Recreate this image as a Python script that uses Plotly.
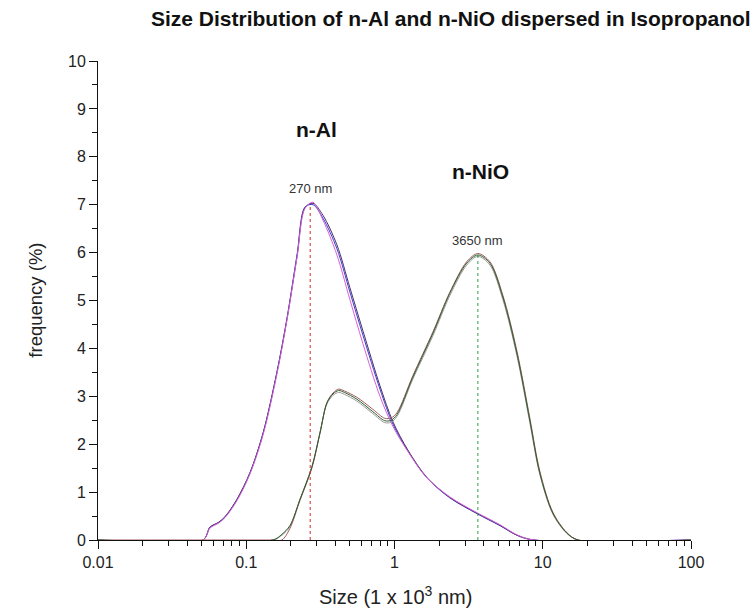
import math
import plotly.graph_objects as go

# Particle size (x 10^3 nm) grids for each material
al_size = [0.01, 0.051, 0.057, 0.065, 0.072, 0.0865, 0.106, 0.13, 0.161, 0.188,
           0.22, 0.249, 0.282, 0.329, 0.409, 0.5, 0.612, 0.798, 0.976, 1.23,
           1.65, 2.36, 3.6, 5.14, 6.69, 8.7, 100]
nio_size = [0.01, 0.151, 0.174, 0.197, 0.23, 0.277, 0.314, 0.35, 0.385, 0.42,
            0.46, 0.557, 0.714, 0.86, 0.95, 1.04, 1.33, 1.82, 2.36, 3.07, 3.65,
            4.4, 5.38, 6.69, 8.18, 9.55, 11.7, 14.5, 17.3, 100]

# Frequency (%) for three repeat measurements of n-Al
al_run1 = [0, 0, 0.27, 0.36, 0.48, 0.84, 1.40, 2.23, 3.50, 4.62, 5.95, 6.95, 7.00,
           6.72, 6.08, 5.18, 4.28, 3.15, 2.42, 1.86, 1.30, 0.88, 0.55, 0.30, 0.10, 0, 0]
al_run2 = [0, 0, 0.27, 0.37, 0.49, 0.85, 1.41, 2.24, 3.50, 4.60, 5.92, 6.94, 7.03,
           6.78, 6.16, 5.27, 4.37, 3.22, 2.47, 1.88, 1.31, 0.89, 0.56, 0.31, 0.10, 0, 0]
al_run3 = [0, 0, 0.25, 0.35, 0.47, 0.82, 1.38, 2.20, 3.46, 4.58, 5.90, 6.92, 7.05,
           6.68, 5.95, 5.02, 4.10, 3.00, 2.37, 1.85, 1.30, 0.90, 0.57, 0.32, 0.11, 0, 0]

# Frequency (%) for three repeat measurements of n-NiO
nio_run1 = [0, 0, 0.10, 0.28, 0.85, 1.53, 2.24, 2.84, 3.02, 3.08, 3.04, 2.90, 2.64,
            2.45, 2.46, 2.58, 3.36, 4.27, 5.10, 5.74, 5.92, 5.74, 5.02, 3.85, 2.45,
            1.37, 0.54, 0.14, 0, 0]
nio_run2 = [0, 0, 0, 0.24, 0.82, 1.50, 2.22, 2.87, 3.07, 3.15, 3.11, 2.98, 2.73,
            2.54, 2.55, 2.66, 3.43, 4.35, 5.17, 5.81, 5.98, 5.81, 5.11, 3.95, 2.55,
            1.44, 0.58, 0.16, 0, 0]
nio_run3 = [0, 0, 0.12, 0.30, 0.84, 1.52, 2.23, 2.86, 3.05, 3.12, 3.08, 2.94, 2.68,
            2.49, 2.50, 2.62, 3.40, 4.32, 5.15, 5.78, 5.95, 5.78, 5.07, 3.90, 2.50,
            1.40, 0.56, 0.15, 0, 0]

# Modal sizes and their labels
peak_sizes = [0.27, 3.65]
peak_heights = [7.02, 5.95]
peak_labels = ["270 nm", "3650 nm"]
peak_colors = ["#d42a2a", "#2aa24a"]

# Axis ticks
x_tickvals = [0.01, 0.1, 1, 10, 100]
x_ticktext = ["0.01", "0.1", "1", "10", "100"]
y_tickvals = list(range(0, 11))

FONT = "Liberation Sans, Arial, sans-serif"

fig = go.Figure()

series = [
    (al_size, al_run1, "#3a3ad8"),
    (al_size, al_run2, "#4a3060"),
    (al_size, al_run3, "#d860d8"),
    (nio_size, nio_run1, "#9a9a9a"),
    (nio_size, nio_run2, "#a05a5a"),
    (nio_size, nio_run3, "#2d5e30"),
]
for xs, ys, col in series:
    fig.add_trace(go.Scatter(x=xs, y=ys, mode="lines",
                             line=dict(color=col, width=1, shape="spline",
                                       smoothing=0.9),
                             showlegend=False, hoverinfo="skip"))

# Dotted markers at the modal sizes
for xp, yp, col in zip(peak_sizes, peak_heights, peak_colors):
    fig.add_trace(go.Scatter(x=[xp, xp], y=[0, yp], mode="lines",
                             line=dict(color=col, width=1, dash="dot"),
                             showlegend=False, hoverinfo="skip"))

annotations = []
for xp, yp, lab in zip(peak_sizes, peak_heights, peak_labels):
    annotations.append(dict(x=math.log10(xp), y=yp, xref="x", yref="y",
                            text=lab, showarrow=False, yshift=15,
                            font=dict(family=FONT, size=13, color="#333")))

annotations += [
    dict(x=math.log10(0.30), y=8.58, xref="x", yref="y", text="<b>n-Al</b>",
         showarrow=False, font=dict(family=FONT, size=21, color="#111")),
    dict(x=math.log10(3.83), y=7.70, xref="x", yref="y", text="<b>n-NiO</b>",
         showarrow=False, font=dict(family=FONT, size=21, color="#111")),
    dict(x=(395 - 98) / 593, y=-0.116, xref="paper", yref="paper",
         text="Size (1 x 10<sup>3</sup> nm)", showarrow=False,
         xanchor="center", yanchor="middle",
         font=dict(family=FONT, size=20, color="#222")),
    dict(x=-0.106, y=0.5, xref="paper", yref="paper", text="frequency (%)",
         textangle=-90, showarrow=False, xanchor="center", yanchor="middle",
         font=dict(family=FONT, size=18.5, color="#222")),
    dict(x=(451 - 98) / 593, y=(540 - 18) / 479.3, xref="paper", yref="paper",
         text="<b>Size Distribution of n-Al and n-NiO dispersed in Isopropanol</b>",
         showarrow=False, xanchor="center", yanchor="middle",
         font=dict(family=FONT, size=21, color="#111")),
]

fig.update_layout(
    width=755, height=613,
    margin=dict(l=98, r=64, t=61, b=73),
    paper_bgcolor="white", plot_bgcolor="white",
    annotations=annotations,
    xaxis=dict(type="log", range=[-2, 2], tickvals=x_tickvals, ticktext=x_ticktext,
               showgrid=False, zeroline=False, showline=True, linecolor="#111",
               linewidth=1, ticks="outside", ticklen=8, tickcolor="#111",
               tickfont=dict(family=FONT, size=16, color="#222"),
               minor=dict(dtick="D1", ticks="outside", ticklen=5, tickcolor="#111",
                          showgrid=False)),
    yaxis=dict(range=[0, 10], tickvals=y_tickvals, showgrid=False, zeroline=False,
               showline=True, linecolor="#111", linewidth=1, ticks="outside",
               ticklen=8, tickcolor="#111",
               tickfont=dict(family=FONT, size=16, color="#222"),
               minor=dict(dtick=0.5, ticks="outside", ticklen=5, tickcolor="#111",
                          showgrid=False)),
)

fig.write_html("out.html")
